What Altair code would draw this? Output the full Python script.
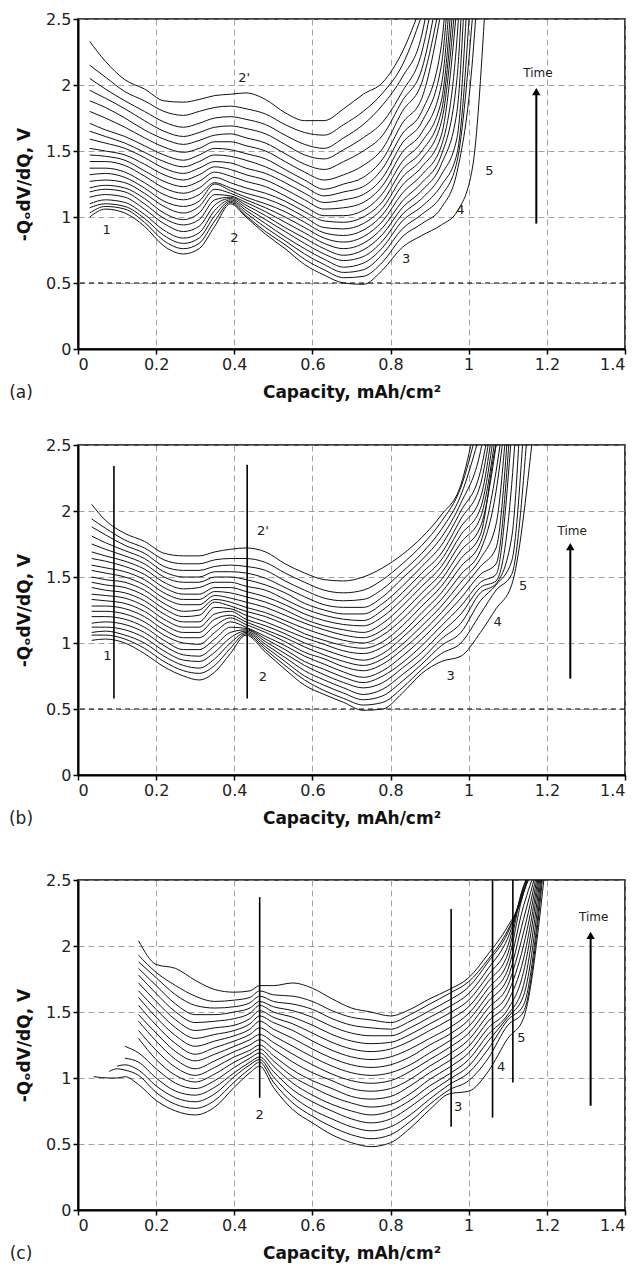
import altair as alt
import pandas as pd

# ---------------- common ----------------
X_TICKS = [0, 0.2, 0.4, 0.6, 0.8, 1.0, 1.2, 1.4]
Y_TICKS = [0, 0.5, 1.0, 1.5, 2.0, 2.5]
X_TITLE = "Capacity, mAh/cm²"
Y_TITLE = "-QₒdV/dQ, V"
OFF_TOP = 2.6  # curves leave the plot through the top

# ---------------- panel (a) ----------------
A_GRID = [0.03, 0.07, 0.12, 0.17, 0.22, 0.27, 0.31, 0.35, 0.39, 0.43, 0.48,
          0.53, 0.58, 0.63, 0.68, 0.73, 0.78, 0.83, 0.88, 0.93, 0.97, 1.01]
A_CURVES = [
    [1.00, 1.06, 1.03, 0.93, 0.78, 0.72, 0.76, 0.93, 1.10, 1.00, 0.87, 0.76, 0.64, 0.56, 0.50, 0.49, 0.60, 0.77, 0.86, 0.94, 1.04, 1.38],
    [1.03, 1.08, 1.06, 0.96, 0.82, 0.76, 0.80, 0.97, 1.11, 1.01, 0.89, 0.79, 0.68, 0.60, 0.54, 0.55, 0.66, 0.85, 0.95, 1.07, 1.34, 2.20],
    [1.07, 1.10, 1.08, 0.99, 0.86, 0.80, 0.84, 1.01, 1.12, 1.03, 0.92, 0.82, 0.72, 0.64, 0.58, 0.60, 0.72, 0.91, 1.02, 1.16, 1.42],
    [1.10, 1.13, 1.11, 1.02, 0.90, 0.84, 0.88, 1.05, 1.13, 1.05, 0.95, 0.85, 0.76, 0.68, 0.62, 0.65, 0.77, 0.97, 1.08, 1.24, 1.48],
    [1.15, 1.17, 1.15, 1.06, 0.95, 0.89, 0.93, 1.09, 1.14, 1.07, 0.98, 0.89, 0.80, 0.72, 0.67, 0.70, 0.82, 1.02, 1.14, 1.32, 1.60],
    [1.19, 1.21, 1.19, 1.10, 0.99, 0.94, 0.98, 1.13, 1.15, 1.09, 1.01, 0.92, 0.84, 0.76, 0.71, 0.75, 0.87, 1.07, 1.20, 1.40, 1.80],
    [1.22, 1.24, 1.22, 1.14, 1.03, 0.98, 1.03, 1.17, 1.16, 1.11, 1.04, 0.96, 0.88, 0.80, 0.76, 0.80, 0.92, 1.12, 1.26, 1.47, 2.05],
    [1.27, 1.28, 1.26, 1.18, 1.08, 1.03, 1.08, 1.21, 1.18, 1.13, 1.07, 1.00, 0.92, 0.84, 0.81, 0.85, 0.97, 1.18, 1.32, 1.54, 2.35],
    [1.32, 1.33, 1.30, 1.22, 1.12, 1.08, 1.12, 1.25, 1.20, 1.15, 1.10, 1.04, 0.96, 0.88, 0.86, 0.90, 1.02, 1.24, 1.38, 1.62],
    [1.37, 1.37, 1.34, 1.26, 1.17, 1.13, 1.17, 1.26, 1.22, 1.18, 1.14, 1.08, 1.00, 0.92, 0.91, 0.95, 1.07, 1.30, 1.44, 1.72],
    [1.42, 1.42, 1.39, 1.31, 1.22, 1.18, 1.22, 1.30, 1.26, 1.22, 1.18, 1.12, 1.04, 0.97, 0.96, 1.00, 1.12, 1.36, 1.50, 1.80],
    [1.47, 1.46, 1.43, 1.35, 1.27, 1.23, 1.27, 1.34, 1.31, 1.27, 1.23, 1.16, 1.08, 1.01, 1.01, 1.05, 1.18, 1.42, 1.57, 1.88],
    [1.52, 1.50, 1.47, 1.40, 1.32, 1.28, 1.32, 1.38, 1.36, 1.32, 1.28, 1.21, 1.13, 1.06, 1.07, 1.11, 1.24, 1.49, 1.64, 2.00],
    [1.59, 1.56, 1.52, 1.45, 1.37, 1.33, 1.37, 1.42, 1.41, 1.37, 1.33, 1.26, 1.18, 1.11, 1.13, 1.17, 1.30, 1.56, 1.72, 2.15],
    [1.65, 1.61, 1.56, 1.49, 1.42, 1.38, 1.42, 1.47, 1.46, 1.43, 1.38, 1.31, 1.23, 1.16, 1.19, 1.23, 1.37, 1.63, 1.80, 2.30],
    [1.71, 1.66, 1.61, 1.54, 1.47, 1.43, 1.47, 1.52, 1.51, 1.48, 1.44, 1.36, 1.28, 1.21, 1.25, 1.30, 1.44, 1.71, 1.90],
    [1.80, 1.75, 1.68, 1.60, 1.53, 1.49, 1.52, 1.57, 1.57, 1.54, 1.50, 1.42, 1.34, 1.28, 1.32, 1.39, 1.52, 1.80, 2.02],
    [1.88, 1.83, 1.75, 1.66, 1.59, 1.55, 1.58, 1.62, 1.63, 1.60, 1.56, 1.48, 1.40, 1.36, 1.42, 1.50, 1.62, 1.88, 2.12],
    [1.96, 1.90, 1.82, 1.73, 1.65, 1.61, 1.64, 1.68, 1.69, 1.67, 1.63, 1.55, 1.47, 1.44, 1.51, 1.60, 1.72, 1.95, 2.25],
    [2.05, 1.97, 1.88, 1.80, 1.72, 1.68, 1.71, 1.75, 1.76, 1.74, 1.70, 1.62, 1.55, 1.52, 1.60, 1.70, 1.85, 2.06, 2.38],
    [2.15, 2.06, 1.95, 1.88, 1.80, 1.77, 1.80, 1.83, 1.84, 1.82, 1.78, 1.70, 1.64, 1.62, 1.70, 1.80, 1.94, 2.15],
    [2.33, 2.18, 2.04, 1.97, 1.88, 1.87, 1.89, 1.92, 1.93, 1.94, 1.89, 1.79, 1.73, 1.73, 1.82, 1.93, 2.02, 2.25],
]
A_END = [1.042, 1.02, 1.012, 1.003, 0.995, 0.988, 0.982, 0.976, 0.97, 0.965, 0.96,
         0.955, 0.95, 0.945, 0.94, 0.932, 0.925, 0.915, 0.905, 0.895, 0.888, 0.878]
A_LAB_T = ["1", "2", "2'", "3", "4", "5", "Time"]
A_LAB_X = [0.073, 0.40, 0.425, 0.84, 0.979, 1.053, 1.177]
A_LAB_Y = [0.90, 0.84, 2.05, 0.68, 1.05, 1.345, 2.09]
A_LAB_S = [13, 13, 13, 13, 13, 13, 12]
A_ARROW = [1.173, 0.95, 1.99]
A_VL_X, A_VL_Y0, A_VL_Y1 = [], [], []

# ---------------- panel (b) ----------------
B_GRID = [0.035, 0.07, 0.12, 0.17, 0.22, 0.27, 0.31, 0.35, 0.39, 0.43, 0.48, 0.53,
          0.58, 0.63, 0.68, 0.73, 0.78, 0.83, 0.88, 0.93, 0.98, 1.03, 1.07, 1.11]
B_CURVES = [
    [1.02, 1.03, 1.00, 0.92, 0.82, 0.75, 0.72, 0.78, 0.92, 1.06, 0.93, 0.80, 0.68, 0.61, 0.55, 0.49, 0.50, 0.62, 0.77, 0.86, 0.90, 1.08, 1.26, 1.44],
    [1.06, 1.06, 1.03, 0.96, 0.86, 0.79, 0.77, 0.83, 0.96, 1.07, 0.95, 0.83, 0.72, 0.64, 0.58, 0.53, 0.55, 0.66, 0.80, 0.92, 1.00, 1.22, 1.40, 1.52],
    [1.08, 1.09, 1.06, 1.00, 0.90, 0.83, 0.81, 0.88, 1.00, 1.08, 0.97, 0.86, 0.75, 0.68, 0.62, 0.57, 0.60, 0.71, 0.84, 0.98, 1.08, 1.32, 1.44, 1.62],
    [1.12, 1.12, 1.10, 1.04, 0.94, 0.87, 0.86, 0.93, 1.04, 1.09, 0.99, 0.89, 0.79, 0.72, 0.66, 0.61, 0.65, 0.76, 0.88, 1.03, 1.15, 1.38, 1.45, 1.80],
    [1.15, 1.16, 1.14, 1.08, 0.98, 0.91, 0.90, 0.98, 1.08, 1.10, 1.01, 0.92, 0.83, 0.76, 0.70, 0.66, 0.70, 0.81, 0.93, 1.08, 1.22, 1.42, 1.47, 2.20],
    [1.20, 1.20, 1.18, 1.12, 1.02, 0.95, 0.95, 1.03, 1.12, 1.11, 1.03, 0.95, 0.86, 0.80, 0.74, 0.70, 0.75, 0.85, 0.98, 1.13, 1.28, 1.46, 1.52],
    [1.24, 1.24, 1.22, 1.16, 1.06, 1.00, 0.99, 1.08, 1.16, 1.12, 1.05, 0.98, 0.90, 0.84, 0.78, 0.74, 0.79, 0.90, 1.03, 1.18, 1.34, 1.52, 1.60],
    [1.28, 1.28, 1.26, 1.20, 1.10, 1.04, 1.04, 1.13, 1.19, 1.14, 1.08, 1.01, 0.93, 0.88, 0.82, 0.79, 0.84, 0.95, 1.08, 1.23, 1.40, 1.58, 1.72],
    [1.33, 1.32, 1.30, 1.24, 1.14, 1.08, 1.08, 1.18, 1.21, 1.16, 1.10, 1.04, 0.97, 0.91, 0.86, 0.83, 0.88, 0.99, 1.13, 1.28, 1.46, 1.64, 1.90],
    [1.37, 1.36, 1.34, 1.28, 1.18, 1.12, 1.12, 1.22, 1.24, 1.18, 1.13, 1.07, 1.00, 0.95, 0.90, 0.87, 0.92, 1.04, 1.18, 1.33, 1.52, 1.70, 2.15],
    [1.42, 1.40, 1.38, 1.32, 1.22, 1.16, 1.16, 1.27, 1.26, 1.21, 1.16, 1.10, 1.04, 0.99, 0.94, 0.92, 0.97, 1.08, 1.23, 1.38, 1.58, 1.76, 2.30],
    [1.46, 1.44, 1.42, 1.36, 1.26, 1.20, 1.21, 1.31, 1.28, 1.24, 1.20, 1.14, 1.07, 1.02, 0.98, 0.96, 1.01, 1.13, 1.28, 1.43, 1.64, 1.82, 2.50],
    [1.50, 1.48, 1.46, 1.40, 1.30, 1.24, 1.25, 1.33, 1.31, 1.27, 1.23, 1.17, 1.11, 1.06, 1.02, 1.00, 1.06, 1.18, 1.33, 1.48, 1.70, 1.88],
    [1.55, 1.53, 1.50, 1.44, 1.34, 1.29, 1.29, 1.36, 1.34, 1.31, 1.27, 1.21, 1.15, 1.10, 1.06, 1.04, 1.10, 1.23, 1.38, 1.53, 1.76, 1.95],
    [1.59, 1.57, 1.54, 1.48, 1.38, 1.33, 1.33, 1.39, 1.38, 1.35, 1.31, 1.25, 1.18, 1.13, 1.10, 1.08, 1.15, 1.28, 1.43, 1.58, 1.82, 2.02],
    [1.64, 1.62, 1.58, 1.52, 1.42, 1.37, 1.37, 1.42, 1.42, 1.39, 1.35, 1.29, 1.22, 1.17, 1.14, 1.13, 1.20, 1.33, 1.48, 1.63, 1.88, 2.10],
    [1.69, 1.66, 1.62, 1.56, 1.46, 1.41, 1.42, 1.46, 1.46, 1.43, 1.40, 1.33, 1.26, 1.21, 1.18, 1.17, 1.25, 1.38, 1.53, 1.68, 1.94, 2.20],
    [1.75, 1.71, 1.66, 1.60, 1.50, 1.46, 1.46, 1.50, 1.50, 1.48, 1.44, 1.38, 1.30, 1.25, 1.22, 1.22, 1.30, 1.43, 1.58, 1.74, 2.00, 2.30],
    [1.81, 1.76, 1.70, 1.64, 1.54, 1.50, 1.50, 1.54, 1.54, 1.53, 1.49, 1.42, 1.35, 1.29, 1.27, 1.27, 1.35, 1.49, 1.63, 1.80, 2.06, 2.45],
    [1.88, 1.82, 1.74, 1.68, 1.58, 1.55, 1.55, 1.58, 1.59, 1.58, 1.55, 1.47, 1.40, 1.34, 1.32, 1.33, 1.41, 1.54, 1.68, 1.86, 2.12],
    [1.94, 1.87, 1.78, 1.72, 1.63, 1.60, 1.60, 1.63, 1.64, 1.64, 1.61, 1.53, 1.46, 1.40, 1.38, 1.40, 1.48, 1.60, 1.74, 1.92, 2.18],
    [2.05, 1.93, 1.83, 1.77, 1.68, 1.66, 1.66, 1.69, 1.71, 1.72, 1.69, 1.60, 1.53, 1.48, 1.47, 1.50, 1.57, 1.67, 1.80, 1.97, 2.20],
]
B_END = [1.165, 1.15, 1.14, 1.13, 1.12, 1.11, 1.105, 1.10, 1.095, 1.09, 1.085,
         1.08, 1.075, 1.07, 1.065, 1.06, 1.055, 1.05, 1.04, 1.03, 1.02, 1.013]
B_LAB_T = ["1", "2", "2'", "3", "4", "5", "Time"]
B_LAB_X = [0.075, 0.473, 0.473, 0.954, 1.074, 1.139, 1.265]
B_LAB_Y = [0.90, 0.74, 1.85, 0.75, 1.16, 1.43, 1.85]
B_LAB_S = [13, 13, 13, 13, 13, 13, 12]
B_ARROW = [1.26, 0.73, 1.77]
B_VL_X = [0.092, 0.433]
B_VL_Y0 = [0.58, 0.58]
B_VL_Y1 = [2.34, 2.35]

# ---------------- panel (c) ----------------
N = None
C_GRID = [0.04, 0.08, 0.10, 0.12, 0.155, 0.20, 0.25, 0.30, 0.35, 0.40, 0.44, 0.465, 0.50,
          0.55, 0.60, 0.65, 0.70, 0.75, 0.80, 0.85, 0.90, 0.95, 1.00, 1.05, 1.10, 1.14]
C_CURVES = [
    [1.01, 1.00, 1.00, 1.01, 0.95, 0.83, 0.75, 0.72, 0.78, 0.93, 1.04, 1.09, 0.93, 0.76, 0.66, 0.57, 0.51, 0.48, 0.51, 0.62, 0.76, 0.88, 0.90, 1.05, 1.30, 1.45],
    [N, 1.05, 1.07, 1.06, 1.02, 0.89, 0.80, 0.77, 0.83, 0.97, 1.07, 1.12, 0.97, 0.81, 0.71, 0.63, 0.57, 0.54, 0.57, 0.67, 0.80, 0.91, 0.98, 1.15, 1.40, 1.50],
    [N, N, 1.09, 1.10, 1.06, 0.94, 0.85, 0.82, 0.88, 1.01, 1.10, 1.14, 1.01, 0.86, 0.76, 0.69, 0.63, 0.60, 0.63, 0.72, 0.84, 0.95, 1.04, 1.22, 1.44, 1.55],
    [N, N, N, 1.15, 1.12, 1.00, 0.90, 0.87, 0.93, 1.04, 1.12, 1.16, 1.05, 0.91, 0.82, 0.75, 0.69, 0.66, 0.69, 0.78, 0.89, 0.99, 1.09, 1.28, 1.46, 1.62],
    [N, N, N, 1.24, 1.19, 1.07, 0.96, 0.92, 0.98, 1.08, 1.15, 1.19, 1.09, 0.96, 0.87, 0.80, 0.75, 0.72, 0.75, 0.83, 0.94, 1.03, 1.14, 1.33, 1.48, 1.70],
    [N, N, N, N, 1.30, 1.14, 1.02, 0.97, 1.03, 1.12, 1.18, 1.22, 1.13, 1.01, 0.93, 0.86, 0.81, 0.78, 0.80, 0.88, 0.99, 1.08, 1.19, 1.38, 1.52, 1.80],
    [N, N, N, N, 1.36, 1.21, 1.08, 1.02, 1.08, 1.16, 1.21, 1.25, 1.17, 1.06, 0.98, 0.92, 0.86, 0.84, 0.86, 0.94, 1.04, 1.13, 1.24, 1.43, 1.58, 1.90],
    [N, N, N, N, 1.43, 1.28, 1.14, 1.07, 1.13, 1.20, 1.25, 1.29, 1.22, 1.12, 1.04, 0.98, 0.92, 0.90, 0.92, 0.99, 1.09, 1.18, 1.29, 1.48, 1.64, 2.00],
    [N, N, N, N, 1.48, 1.34, 1.20, 1.13, 1.18, 1.24, 1.29, 1.33, 1.27, 1.18, 1.10, 1.03, 0.98, 0.96, 0.98, 1.05, 1.14, 1.23, 1.34, 1.53, 1.70, 2.10],
    [N, N, N, N, 1.55, 1.40, 1.26, 1.18, 1.23, 1.28, 1.33, 1.38, 1.32, 1.24, 1.16, 1.09, 1.04, 1.02, 1.04, 1.10, 1.19, 1.28, 1.39, 1.58, 1.76, 2.20],
    [N, N, N, N, 1.61, 1.46, 1.32, 1.24, 1.28, 1.32, 1.37, 1.43, 1.37, 1.30, 1.22, 1.15, 1.10, 1.08, 1.10, 1.16, 1.25, 1.33, 1.44, 1.63, 1.82, 2.30],
    [N, N, N, N, 1.66, 1.52, 1.38, 1.30, 1.33, 1.36, 1.41, 1.47, 1.42, 1.36, 1.28, 1.21, 1.16, 1.14, 1.16, 1.22, 1.30, 1.38, 1.49, 1.68, 1.88, 2.40],
    [N, N, N, N, 1.72, 1.58, 1.44, 1.36, 1.38, 1.40, 1.45, 1.51, 1.46, 1.41, 1.34, 1.27, 1.22, 1.20, 1.22, 1.28, 1.36, 1.44, 1.54, 1.73, 1.94, 2.45],
    [N, N, N, N, 1.78, 1.64, 1.50, 1.42, 1.43, 1.45, 1.49, 1.55, 1.50, 1.46, 1.40, 1.33, 1.28, 1.26, 1.27, 1.33, 1.41, 1.49, 1.59, 1.78, 2.00, 2.45],
    [N, N, N, N, 1.83, 1.70, 1.56, 1.48, 1.48, 1.50, 1.53, 1.58, 1.54, 1.51, 1.46, 1.39, 1.34, 1.32, 1.32, 1.38, 1.46, 1.54, 1.64, 1.83, 2.06, 2.42],
    [N, N, N, N, 1.88, 1.76, 1.63, 1.55, 1.53, 1.54, 1.57, 1.62, 1.58, 1.56, 1.52, 1.45, 1.40, 1.38, 1.37, 1.43, 1.51, 1.59, 1.69, 1.88, 2.10, 2.42],
    [N, N, N, N, 1.93, 1.80, 1.70, 1.62, 1.58, 1.59, 1.61, 1.66, 1.63, 1.62, 1.58, 1.51, 1.46, 1.44, 1.42, 1.48, 1.56, 1.64, 1.73, 1.90, 2.12, 2.40],
    [N, N, N, N, 2.04, 1.86, 1.83, 1.74, 1.67, 1.65, 1.66, 1.70, 1.70, 1.72, 1.68, 1.60, 1.53, 1.50, 1.47, 1.52, 1.60, 1.67, 1.76, 1.94, 2.15, 2.40],
]
C_END = [1.196, 1.192, 1.19, 1.188, 1.186, 1.184, 1.182, 1.18, 1.178, 1.176, 1.174,
         1.172, 1.17, 1.167, 1.165, 1.162, 1.16, 1.155]
C_LAB_T = ["2", "3", "4", "5", "Time"]
C_LAB_X = [0.465, 0.973, 1.083, 1.135, 1.32]
C_LAB_Y = [0.72, 0.78, 1.08, 1.30, 2.22]
C_LAB_S = [13, 13, 13, 13, 12]
C_ARROW = [1.312, 0.79, 2.12]
C_VL_X = [0.465, 0.955, 1.061, 1.113]
C_VL_Y0 = [0.85, 0.63, 0.70, 0.965]
C_VL_Y1 = [2.37, 2.28, 2.5, 2.5]

W, H = 547, 330
FONT = "DejaVu Sans"


def make_panel(grid, curves, ends, lab_t, lab_x, lab_y, lab_s, arrow, vl_x, vl_y0, vl_y1,
               letter, dark_half):
    rows = []
    for i, (vals, end) in enumerate(zip(curves, ends)):
        for gx, v in zip(grid, vals):
            if v is not None:
                rows.append({"curve": i, "x": gx, "y": v})
        rows.append({"curve": i, "x": end, "y": OFF_TOP})
    df = pd.DataFrame(rows)

    xs = alt.Scale(domain=[0, 1.4], nice=False, zero=False)
    ys = alt.Scale(domain=[0, 2.5], nice=False)
    xax = alt.Axis(values=X_TICKS, format="~g", title=X_TITLE)
    yax = alt.Axis(values=Y_TICKS, format="~g", title=Y_TITLE)

    def X(f="x"):
        return alt.X(f"{f}:Q", scale=xs, axis=xax)

    def Y(f="y"):
        return alt.Y(f"{f}:Q", scale=ys, axis=yax)

    layers = []
    if dark_half:
        layers.append(
            alt.Chart(pd.DataFrame({"y": [0.5]}))
            .mark_rule(color="black", strokeDash=[5, 4], strokeWidth=1.1)
            .encode(y=Y())
        )
    layers.append(
        alt.Chart(df)
        .mark_line(color="#111", strokeWidth=1.0, interpolate="monotone", clip=True)
        .encode(x=X(), y=Y(), detail="curve:N")
    )
    if vl_x:
        vdf = pd.DataFrame({"x": vl_x, "y": vl_y0, "y2": vl_y1})
        layers.append(
            alt.Chart(vdf).mark_rule(color="black", strokeWidth=1.6)
            .encode(x=X(), y=Y(), y2="y2:Q")
        )
    adf = pd.DataFrame({"x": [arrow[0]], "y": [arrow[1]], "y2": [arrow[2] - 0.06]})
    layers.append(
        alt.Chart(adf).mark_rule(color="black", strokeWidth=2)
        .encode(x=X(), y=Y(), y2="y2:Q")
    )
    hdf = pd.DataFrame({"x": [arrow[0]], "y": [arrow[2] - 0.04]})
    layers.append(
        alt.Chart(hdf).mark_point(shape="triangle-up", filled=True, size=70,
                                  color="black", opacity=1)
        .encode(x=X(), y=Y())
    )
    tdf = pd.DataFrame({"x": lab_x, "y": lab_y, "t": lab_t, "s": lab_s})
    layers.append(
        alt.Chart(tdf).mark_text(font=FONT, color="#222")
        .encode(x=X(), y=Y(), text="t:N",
                size=alt.Size("s:Q", scale=None, legend=None))
    )
    layers.append(
        alt.Chart(pd.DataFrame({"t": [letter]}))
        .mark_text(font=FONT, fontSize=17, color="#222")
        .encode(x=alt.value(-57), y=alt.value(H + 44), text="t:N")
    )
    return alt.layer(*layers).properties(width=W, height=H)


pa = make_panel(A_GRID, A_CURVES, A_END, A_LAB_T, A_LAB_X, A_LAB_Y, A_LAB_S, A_ARROW,
                A_VL_X, A_VL_Y0, A_VL_Y1, "(a)", True)
pb = make_panel(B_GRID, B_CURVES, B_END, B_LAB_T, B_LAB_X, B_LAB_Y, B_LAB_S, B_ARROW,
                B_VL_X, B_VL_Y0, B_VL_Y1, "(b)", True)
pc = make_panel(C_GRID, C_CURVES, C_END, C_LAB_T, C_LAB_X, C_LAB_Y, C_LAB_S, C_ARROW,
                C_VL_X, C_VL_Y0, C_VL_Y1, "(c)", False)

chart = (
    alt.vconcat(alt.vconcat(pa, pb, spacing=34), pc, spacing=43)
    .properties(padding={"left": 0, "top": 2, "right": 0, "bottom": 0})
    .configure_view(stroke="black", strokeWidth=1.5)
    .configure_axis(
        domainColor="black", domainWidth=2, tickColor="black", tickWidth=1.5,
        tickSize=5, labelPadding=2, labelFont=FONT, labelFontSize=16,
        labelColor="#222", titleFont=FONT, titleFontSize=17,
        titleFontWeight="bold", titleColor="#111", grid=True, gridColor="#8a8a8a",
        gridDash=[6, 4], gridWidth=0.8,
    )
    .configure_axisX(titlePadding=12)
    .configure_axisY(titlePadding=12)
)

chart.save("out.html", embed_options={"renderer": "svg", "actions": False})
